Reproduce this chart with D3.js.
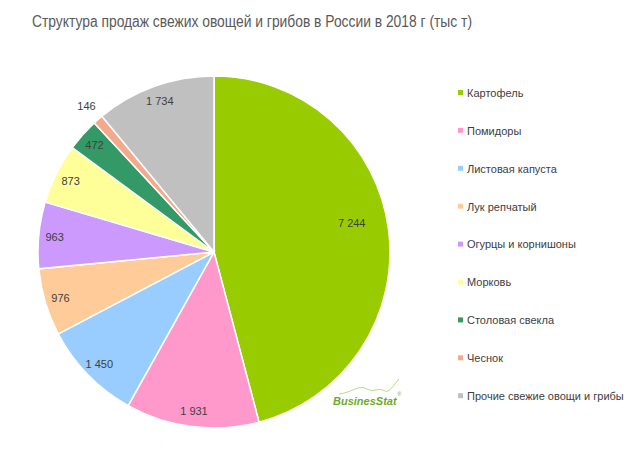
<!DOCTYPE html>
<html>
<head>
<meta charset="utf-8">
<script src="https://cdn.jsdelivr.net/npm/d3@7"></script>
<style>
  body { margin: 0; background: #fff; }
  svg { font-family: "Liberation Sans", Arial, sans-serif; }
</style>
</head>
<body>
<div id="chart"></div>
<script>
// Продажи свежих овощей и грибов, 2018, тыс т
const categories = ['Картофель', 'Помидоры', 'Листовая капуста', 'Лук репчатый',
  'Огурцы и корнишоны', 'Морковь', 'Столовая свекла', 'Чеснок', 'Прочие свежие овощи и грибы'];
const values = [7244, 1931, 1450, 976, 963, 873, 472, 146, 1734];
const colors = ['#99cc00', '#ff99cc', '#99ccff', '#ffcc99', '#cc99ff', '#ffff99', '#339966', '#f4a98c', '#c0c0c0'];

const W = 635, H = 464;
const cx = 214, cy = 252, R = 176;

const svg = d3.select('#chart').append('svg')
  .attr('width', W).attr('height', H);

svg.append('text')
  .attr('x', 32).attr('y', 27)
  .attr('fill', '#595959')
  .attr('font-size', '16px')
  .attr('textLength', 440)
  .attr('lengthAdjust', 'spacingAndGlyphs')
  .text('Структура продаж свежих овощей и грибов в России в 2018 г (тыс т)');

const data = categories.map((c, i) => ({ name: c, value: values[i], color: colors[i] }));

const pie = d3.pie().value(d => d.value).sort(null);
const arc = d3.arc().innerRadius(0).outerRadius(R);
const arcs = pie(data);

const g = svg.append('g').attr('transform', `translate(${cx},${cy})`);

g.selectAll('path').data(arcs)
  .join('path')
  .attr('d', arc)
  .attr('fill', d => d.data.color)
  .attr('stroke', '#fff')
  .attr('stroke-width', 1.5);

// label placement: big slice further in, tiny slice outside
const fmt = v => d3.format(',')(v).replace(',', ' ');
g.selectAll('text.lbl').data(arcs)
  .join('text')
  .attr('class', 'lbl')
  .attr('text-anchor', 'middle')
  .attr('dy', '0.35em')
  .attr('font-size', '11px')
  .attr('fill', '#404040')
  .attr('transform', d => {
    const big = d.data.value > 5000;
    const k = big ? 0.8 : d.data.value < 200 ? 1.1 : 0.91;
    const a = (d.startAngle + d.endAngle) / 2 - (big ? 0.08 : 0);
    return `translate(${Math.sin(a) * R * k},${-Math.cos(a) * R * k})`;
  })
  .text(d => fmt(d.data.value));

// legend
const legend = svg.append('g').attr('transform', 'translate(458,93)');
const rows = legend.selectAll('g').data(data)
  .join('g')
  .attr('transform', (d, i) => `translate(0,${i * 37.9})`);
rows.append('rect')
  .attr('x', 0).attr('y', -3).attr('width', 5).attr('height', 5)
  .attr('fill', d => d.color);
rows.append('text')
  .attr('x', 9).attr('dy', '0.35em')
  .attr('font-size', '11px')
  .attr('fill', '#404040')
  .text(d => d.name);

// BusinesStat logo
const logo = svg.append('g').attr('transform', 'translate(333,405)');
logo.append('path')
  .attr('d', 'M6,-11 C18,-12 26,-21 34,-16 C40,-12 46,-18 52,-14 C56,-12 60,-19 66,-26')
  .attr('fill', 'none').attr('stroke', '#a6cf6a').attr('stroke-width', 0.8);
const lt = logo.append('text')
  .attr('x', 0).attr('y', 0)
  .attr('font-size', '11px').attr('font-weight', 'bold').attr('font-style', 'italic')
  .attr('fill', '#6aaa2a');
lt.append('tspan').text('BusinesStat');
lt.append('tspan')
  .attr('dy', -9).attr('dx', 1)
  .attr('font-size', '5px').attr('font-weight', 'normal').attr('font-style', 'normal')
  .text('®');
</script>
</body>
</html>
